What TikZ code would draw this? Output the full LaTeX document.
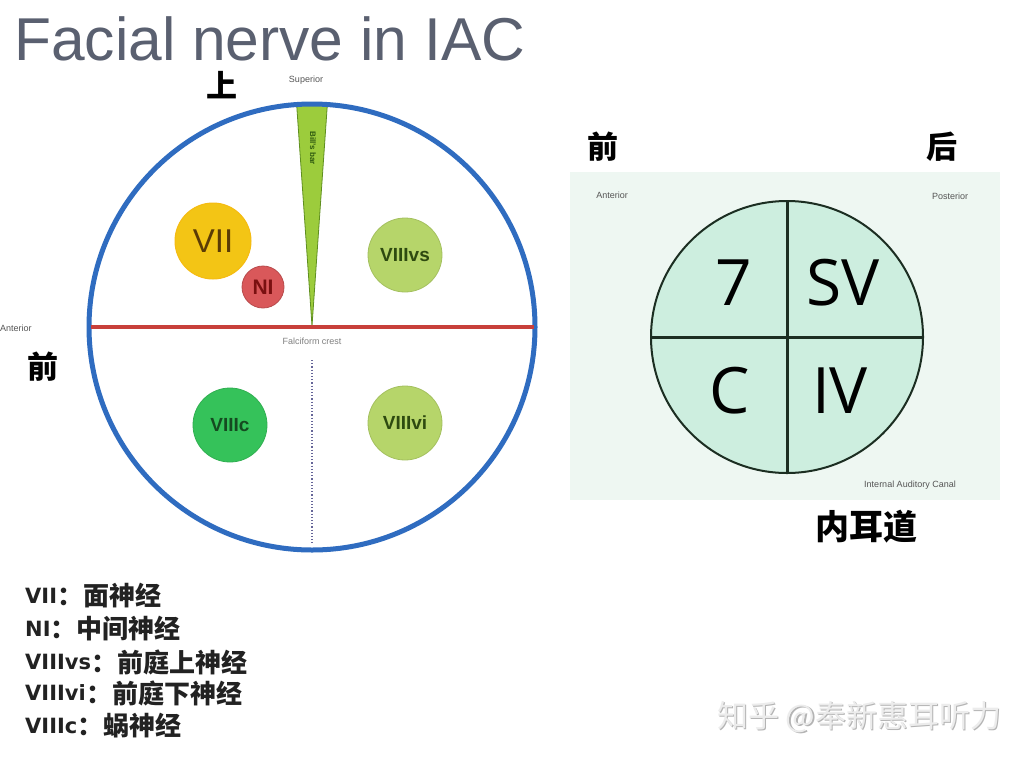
\documentclass[tikz,border=0pt]{standalone}
\usepackage{fontspec}
\setmainfont{Liberation Sans}
\newfontfamily\cjk{Noto Sans CJK SC}
\newfontfamily\osans{Open Sans}
\newfontfamily\dejavu{DejaVu Sans}
\definecolor{titlegray}{HTML}{5A6070}
\definecolor{iacblue}{HTML}{2F6CC0}
\definecolor{crestred}{HTML}{C8403A}
\definecolor{barfill}{HTML}{9CCC3C}
\definecolor{baredge}{HTML}{5F8F1F}
\definecolor{bartext}{HTML}{2E5A10}
\definecolor{viifill}{HTML}{F3C515}
\definecolor{viitext}{HTML}{5B3B05}
\definecolor{nifill}{HTML}{D9585A}
\definecolor{nitext}{HTML}{7A1010}
\definecolor{vestfill}{HTML}{B6D56A}
\definecolor{vesttext}{HTML}{2E4A10}
\definecolor{cochfill}{HTML}{35C25A}
\definecolor{cochtext}{HTML}{154A20}
\definecolor{smallgray}{HTML}{555555}
\definecolor{mintbg}{HTML}{EEF7F2}
\definecolor{mintfill}{HTML}{CDEEDF}
\definecolor{quadline}{HTML}{1C2E22}
\definecolor{wmgray}{HTML}{B4B4B4}
\definecolor{wmlight}{HTML}{ECECEC}
\definecolor{legendtext}{HTML}{222222}
\begin{document}
\begin{tikzpicture}[x=1pt,y=-1pt,
  ball/.style={circle, inner sep=0pt, minimum size=#1},
  tiny/.style={text=smallgray, font=\fontsize{9}{9}\selectfont, inner sep=0pt},
  cjklabel/.style={font=\cjk\bfseries\fontsize{31}{31}\selectfont, inner sep=0pt},
  quadnum/.style={font=\osans\fontsize{64}{64}\selectfont, inner sep=0pt, text=black},
  legend/.style={anchor=west, inner sep=0pt, text=legendtext, font=\dejavu\bfseries\fontsize{21}{21}\selectfont},
  legcjk/.style={anchor=west, inner sep=0pt, text=legendtext, font=\cjk\bfseries\fontsize{26}{26}\selectfont}
]
\useasboundingbox (0,0) rectangle (1024,761);
\fill[white] (0,0) rectangle (1024,761);

% title
\node[anchor=base west, inner sep=0pt, text=titlegray, font=\fontsize{60.5}{60.5}\selectfont] (title) at (14,60) {Facial nerve in IAC};

% ---------------- left diagram ----------------
\node[cjklabel] (shang) at (222,85) {上};
\node[tiny] (superior) at (306,80) {Superior};
\node[tiny, anchor=west] (ant1) at (0,328) {Anterior};
\node[cjklabel] (qian1) at (43,367) {前};

\begin{scope}
  \clip (312,327) circle[radius=221pt];
  \filldraw[fill=barfill, draw=baredge, line width=0.8pt] (296,95) -- (328,95) -- (312,326) -- cycle;
\end{scope}
\node[rotate=-90, text=bartext, font=\bfseries\fontsize{8}{8}\selectfont, inner sep=0pt] (bill) at (313,148) {Bill's bar};

\node[circle, draw=iacblue, line width=5pt, minimum size=446pt, inner sep=0pt] (iac) at (312,327) {};
\draw[crestred, line width=4pt] ([xshift=4pt]iac.west) -- ([xshift=-4pt]iac.east);
\node[tiny, text=gray] (falci) at (312,341) {Falciform crest};
\coordinate (dtop) at (312,360);
\coordinate (dbot) at (312,543);
\draw[dotted, line width=1.2pt, color=gray!80!blue] (dtop) -- (dbot);

\node[ball=76pt, fill=viifill, draw=viifill!85!orange, line width=1pt, text=viitext, font=\fontsize{33}{33}\selectfont] (vii) at (213,241) {VII};
\node[ball=42pt, fill=nifill, draw=nifill!85!black, line width=0.8pt, text=nitext, font=\bfseries\fontsize{21}{21}\selectfont] (ni) at (263,287) {NI};
\node[ball=74pt, fill=vestfill, draw=vestfill!90!black, line width=0.8pt, text=vesttext, font=\bfseries\fontsize{19}{19}\selectfont] (vs) at (405,255) {VIIIvs};
\node[ball=74pt, fill=cochfill, draw=cochfill!90!black, line width=0.8pt, text=cochtext, font=\bfseries\fontsize{19}{19}\selectfont] (vc) at (230,425) {VIIIc};
\node[ball=74pt, fill=vestfill, draw=vestfill!90!black, line width=0.8pt, text=vesttext, font=\bfseries\fontsize{19}{19}\selectfont] (vi) at (405,423) {VIIIvi};

% ---------------- right diagram ----------------
\fill[mintbg] (570,172) rectangle (1000,500);
\node[cjklabel] (qian2) at (603,147) {前};
\node[cjklabel] (hou) at (942,147) {后};
\node[tiny] (ant2) at (612,195) {Anterior};
\node[tiny] (post) at (950,196) {Posterior};

\node[circle, fill=mintfill, draw=quadline, line width=2pt, minimum size=272pt, inner sep=0pt] (iacx) at (787,337) {};
\draw[quadline, line width=3pt] (iacx.north) -- (iacx.south);
\draw[quadline, line width=3pt] (iacx.west) -- (iacx.east);
\node[quadnum] (seven) at (734,283) {7};
\node[quadnum] (sv) at (843,283) {SV};
\node[quadnum] (c) at (730,391) {C};
\node[quadnum] (iv) at (840,391) {IV};

\node[tiny] (iaclabel) at (910,485) {Internal Auditory Canal};
\node[cjklabel, font=\cjk\bfseries\fontsize{34}{34}\selectfont] (neierdao) at (866,527) {内耳道};

% ---------------- legend ----------------
\node[legend] (l1) at (25,596) {VII};
\node[legcjk] (l1c) at (l1.east) {：面神经};
\node[legend] (l2) at (25,629) {NI};
\node[legcjk] (l2c) at (l2.east) {：中间神经};
\node[legend] (l3) at (25,662) {VIIIvs};
\node[legcjk] (l3c) at (l3.east) {：前庭上神经};
\node[legend] (l4) at (25,693) {VIIIvi};
\node[legcjk] (l4c) at (l4.east) {：前庭下神经};
\node[legend] (l5) at (25,726) {VIIIc};
\node[legcjk] (l5c) at (l5.east) {：蜗神经};

% ---------------- watermark ----------------
\node[anchor=west, inner sep=0pt, text=wmgray, font=\cjk\fontsize{31}{31}\selectfont] (wm1) at (718,718) {知乎 @奉新惠耳听力};
\node[anchor=west, inner sep=0pt, text=wmlight, font=\cjk\fontsize{31}{31}\selectfont] (wm2) at (716.8,716.8) {知乎 @奉新惠耳听力};
\end{tikzpicture}
\end{document}
